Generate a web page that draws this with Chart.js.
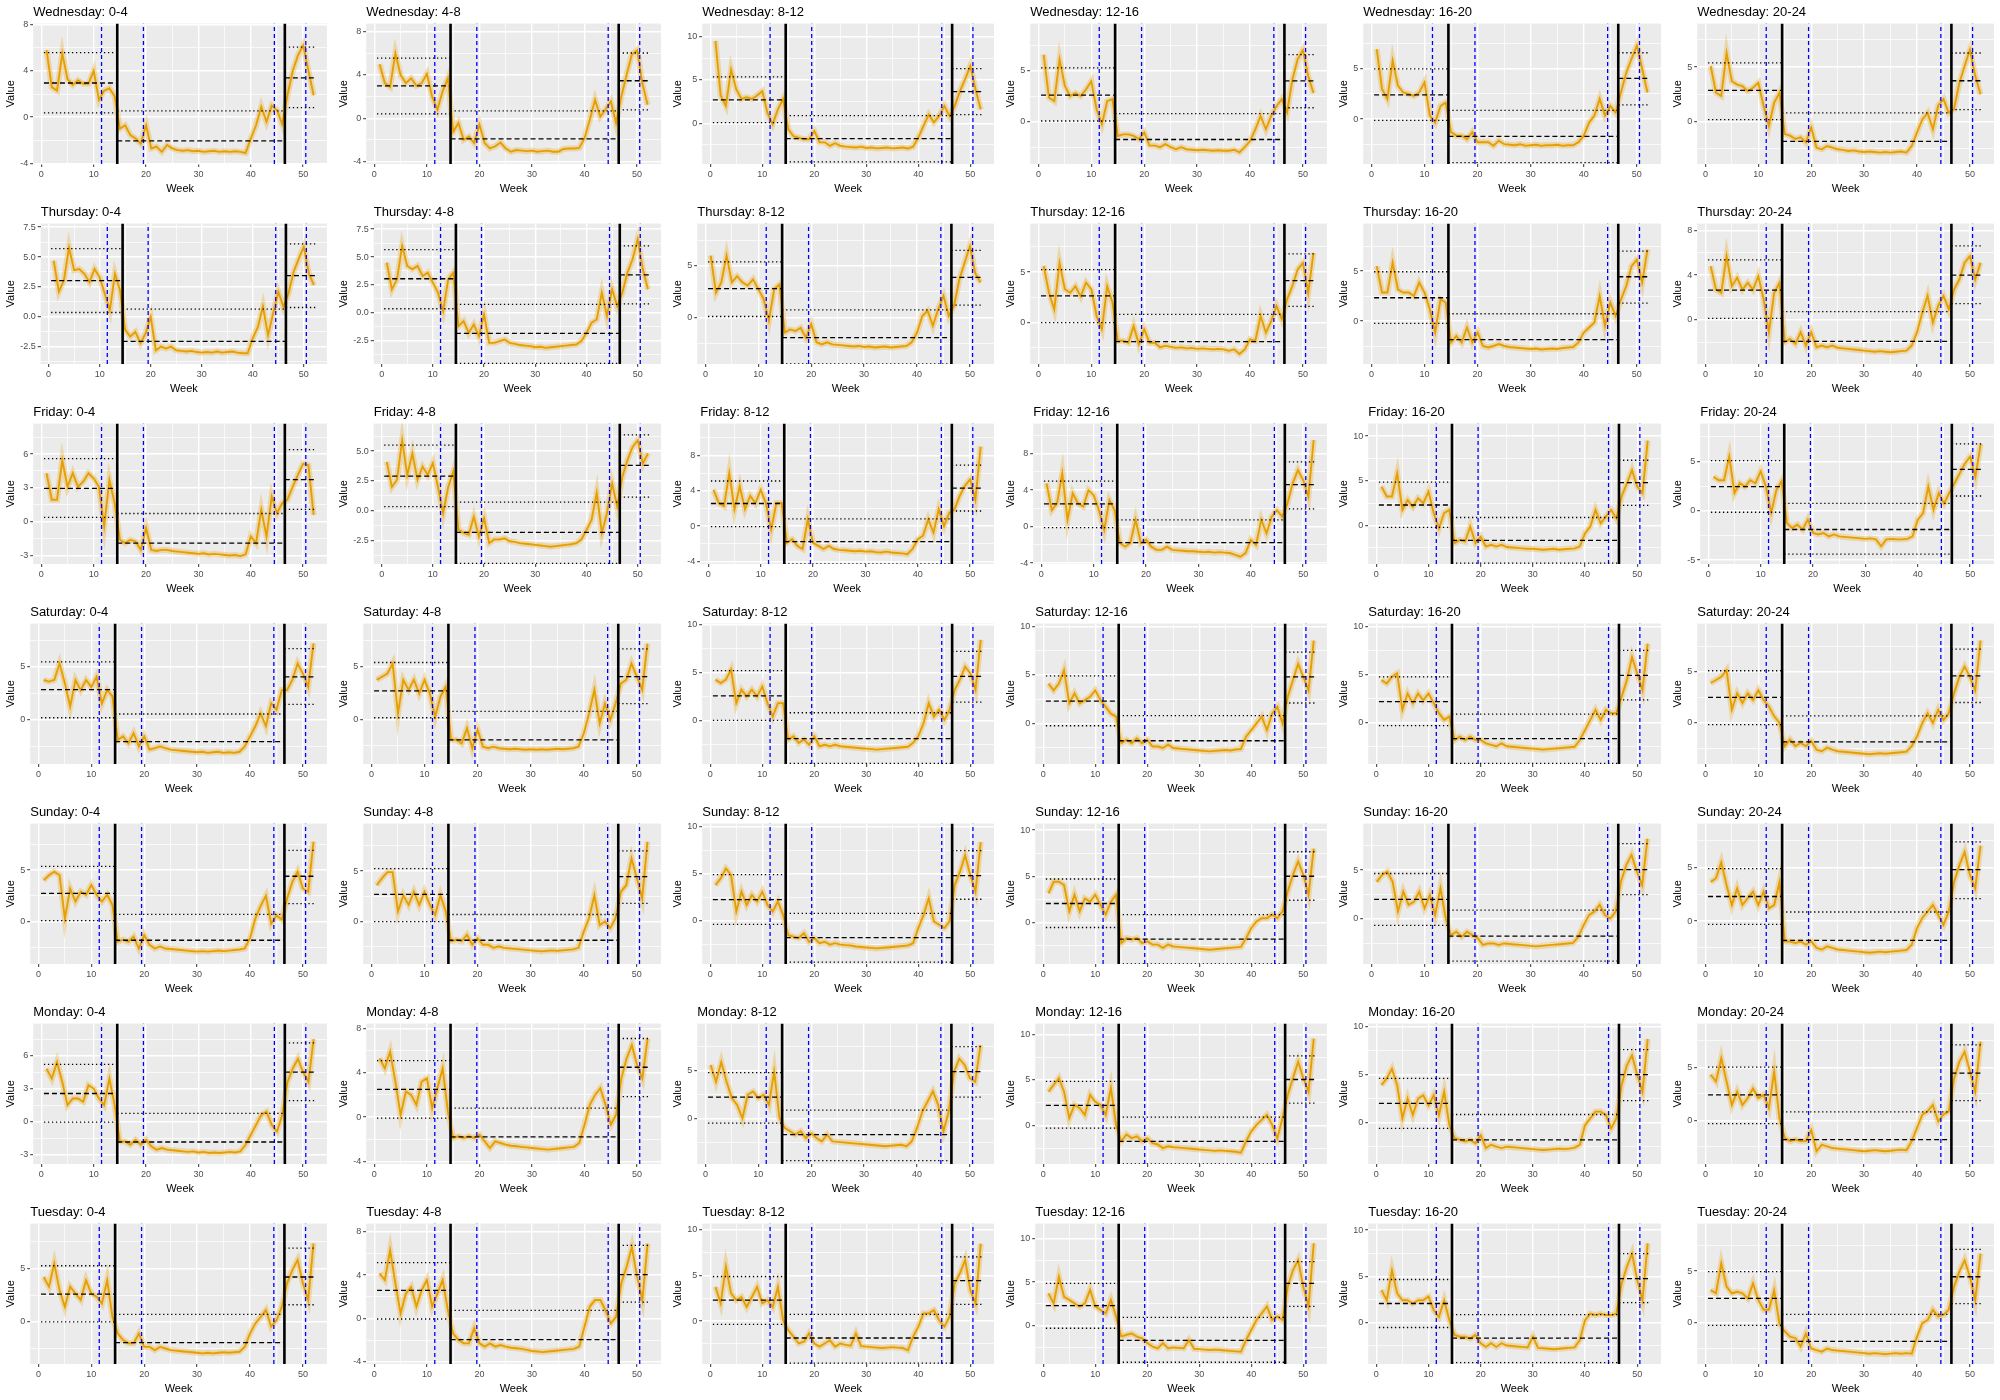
<!DOCTYPE html>
<html>
<head>
<meta charset="utf-8">
<script src="https://cdn.jsdelivr.net/npm/chart.js@4.4.1/dist/chart.umd.min.js"></script>
<style>
  html, body { margin: 0; padding: 0; background: #ffffff; }
  #grid { position: relative; width: 2000px; height: 1400px; }
  #grid canvas { position: absolute; }
</style>
</head>
<body>
<div id="grid"></div>
<script>
const days = ['Wednesday', 'Thursday', 'Friday', 'Saturday', 'Sunday', 'Monday', 'Tuesday'];
const hourBins = ['0-4', '4-8', '8-12', '12-16', '16-20', '20-24'];
const weeks = [1,2,3,4,5,6,7,8,9,10,11,12,13,14,15,16,17,18,19,20,21,22,23,24,25,26,
  27,28,29,30,31,32,33,34,35,36,37,38,39,40,41,42,43,44,45,46,47,48,49,50,51,52];

// changepoints (solid black) and the other detected breaks (dashed)
const boundaryWeeks = [14.5, 46.5];
const dashedWeeks = [11.5, 19.5, 44.5, 50.5];

// one row per hour bin, 52 weekly values
const wednesday = [
  [5.8,2.6,2.3,5.5,3.3,2.8,3.2,2.9,2.9,4.0,1.5,2.3,2.5,1.8,-1.0,-0.7,-1.55,-1.85,-2.3,-0.7,-2.7,-2.55,-3.0,-2.4,-2.7,-2.85,-2.9,-2.85,-2.95,-2.9,-3.0,-2.95,-2.9,-3.0,-2.95,-3.0,-2.95,-3.0,-3.1,-1.85,-0.7,0.9,-0.4,1.0,0.6,-0.6,1.9,4.0,5.35,6.2,4.05,1.9],
  [5.0,3.25,2.9,6.0,4.0,3.25,3.7,3.0,3.25,4.1,2.0,0.8,2.5,3.7,-1.25,-0.45,-2.0,-1.7,-2.3,-0.6,-2.3,-2.8,-2.6,-2.25,-2.8,-3.1,-2.95,-3.0,-3.05,-3.0,-3.1,-3.05,-3.0,-3.1,-3.1,-2.85,-2.8,-2.8,-2.75,-1.85,-0.15,1.7,0.15,0.8,1.55,-0.45,2.0,4.0,5.9,6.3,3.25,1.25],
  [9.5,3.2,2.0,6.2,3.9,2.8,3.0,2.8,3.2,3.7,1.2,-0.1,1.6,2.8,-0.7,-1.5,-1.65,-1.85,-1.85,-0.9,-2.2,-2.2,-2.6,-2.3,-2.6,-2.7,-2.75,-2.8,-2.7,-2.85,-2.8,-2.9,-2.85,-2.8,-2.9,-2.85,-2.8,-2.9,-2.7,-1.65,-0.3,1.0,0.1,0.85,2.0,0.85,2.0,3.7,5.1,6.6,3.9,1.6],
  [6.55,2.35,2.0,6.1,3.5,2.5,2.8,2.5,3.15,3.95,1.2,-0.25,2.0,2.2,-1.4,-1.25,-1.25,-1.4,-1.7,-1.05,-2.35,-2.35,-2.5,-2.2,-2.5,-2.7,-2.5,-2.7,-2.75,-2.8,-2.75,-2.8,-2.85,-2.8,-2.85,-2.85,-2.75,-3.0,-2.5,-1.9,-0.75,0.55,-0.75,0.55,1.5,2.2,0.9,4.1,6.1,7.0,4.45,2.8],
  [6.95,3.0,2.0,5.8,3.3,2.65,2.5,2.3,2.65,3.65,0.35,-0.35,1.3,1.65,-1.3,-1.65,-1.65,-2.0,-1.3,-2.3,-2.3,-2.3,-2.65,-2.15,-2.5,-2.55,-2.6,-2.5,-2.65,-2.6,-2.55,-2.65,-2.6,-2.6,-2.55,-2.65,-2.6,-2.6,-2.3,-1.65,-0.35,0.35,2.0,0.35,1.3,0.65,2.65,4.6,6.0,7.3,5.0,2.65],
  [5.1,2.65,2.35,6.3,3.7,3.4,3.25,2.8,3.1,3.55,1.45,-0.4,1.75,2.65,-1.15,-1.3,-1.6,-1.45,-1.9,-0.55,-2.4,-2.55,-2.25,-2.4,-2.55,-2.6,-2.7,-2.65,-2.75,-2.8,-2.75,-2.8,-2.85,-2.8,-2.85,-2.8,-2.75,-2.85,-2.25,-1.0,0.2,0.8,-0.7,1.45,2.05,0.8,1.15,3.55,5.1,6.6,4.2,2.5]
];
const thursday = [
  [4.7,2.1,3.05,5.8,3.9,4.0,3.6,2.9,4.0,3.3,1.95,0.55,3.6,2.2,-1.1,-1.65,-1.25,-2.2,-1.4,0.0,-2.8,-2.5,-2.65,-2.5,-2.8,-2.85,-2.9,-2.85,-2.95,-3.0,-2.95,-3.0,-2.9,-3.0,-2.95,-2.9,-3.0,-3.05,-3.05,-1.8,-0.85,0.85,-1.55,0.3,2.1,0.85,1.95,3.75,4.85,5.85,3.6,2.65],
  [4.5,2.1,3.0,6.0,4.2,3.9,4.2,3.3,3.6,2.7,1.8,0.15,3.0,3.6,-1.2,-0.75,-1.8,-1.05,-2.1,-0.15,-2.7,-2.7,-2.55,-2.4,-2.7,-2.8,-2.9,-2.95,-3.0,-3.1,-3.05,-3.15,-3.1,-3.05,-3.0,-2.95,-2.9,-2.85,-2.55,-1.8,-0.9,-0.6,1.8,-0.3,2.1,0.6,1.8,3.6,4.8,6.6,3.9,2.1],
  [6.0,2.4,3.4,6.0,3.4,4.0,3.4,3.1,3.7,2.75,1.8,-0.3,2.75,3.2,-1.45,-1.15,-1.3,-1.0,-1.95,-0.65,-2.4,-2.6,-2.4,-2.6,-2.65,-2.7,-2.75,-2.8,-2.75,-2.85,-2.8,-2.9,-2.85,-2.8,-2.9,-2.85,-2.8,-2.75,-2.4,-1.45,0.15,0.65,-0.8,0.8,2.1,0.15,1.15,3.7,5.3,6.9,4.3,3.4],
  [5.6,2.95,1.3,5.9,3.3,2.95,3.6,2.6,3.95,3.3,0.65,-0.65,3.6,2.0,-1.8,-1.8,-2.0,-0.35,-2.15,-0.65,-2.0,-2.0,-2.45,-2.3,-2.4,-2.5,-2.45,-2.55,-2.5,-2.6,-2.55,-2.6,-2.65,-2.6,-2.65,-2.8,-2.65,-3.1,-2.65,-1.65,-1.8,0.65,-1.0,0.15,1.65,0.35,2.3,3.6,5.25,5.9,2.95,6.9],
  [5.5,2.85,2.85,5.85,3.15,2.85,2.85,2.5,3.85,2.85,1.15,-1.15,2.15,1.85,-2.15,-1.5,-2.15,-0.65,-2.15,-1.15,-2.5,-2.65,-2.5,-2.3,-2.5,-2.6,-2.65,-2.7,-2.75,-2.8,-2.75,-2.85,-2.8,-2.75,-2.8,-2.7,-2.65,-2.6,-2.15,-1.15,-0.65,-0.15,2.5,-0.5,1.85,0.5,2.15,3.5,5.5,6.15,3.85,7.15],
  [4.8,2.7,2.4,5.7,3.0,3.75,2.7,3.3,2.7,3.9,1.85,-1.1,2.4,3.3,-2.0,-1.7,-2.15,-1.1,-2.3,-1.1,-2.45,-2.3,-2.45,-2.3,-2.5,-2.55,-2.6,-2.65,-2.7,-2.75,-2.8,-2.85,-2.8,-2.85,-2.9,-2.85,-2.8,-2.75,-2.3,-1.1,0.65,2.15,-0.25,1.25,2.15,0.95,2.7,3.6,5.1,5.7,3.6,5.1]
];
const friday = [
  [4.3,1.95,1.95,5.45,3.1,4.3,3.1,3.55,4.3,3.85,3.1,-0.4,3.7,1.65,-1.6,-1.9,-1.6,-1.75,-2.5,-0.55,-2.5,-2.6,-2.5,-2.5,-2.6,-2.65,-2.7,-2.75,-2.8,-2.85,-2.8,-2.9,-2.85,-2.9,-2.95,-3.0,-2.95,-3.05,-2.9,-1.3,-1.9,1.05,-1.3,2.25,0.75,1.65,1.95,3.1,4.15,5.15,5.0,0.6],
  [4.1,2.0,2.6,5.9,3.0,4.8,2.6,3.7,3.0,4.0,2.0,-0.2,2.0,3.3,-1.6,-1.85,-2.0,-0.5,-2.15,-0.6,-2.7,-2.4,-2.4,-2.3,-2.55,-2.6,-2.7,-2.75,-2.8,-2.85,-2.9,-2.95,-3.0,-2.95,-2.9,-2.85,-2.8,-2.7,-2.4,-1.6,-0.75,1.5,-1.85,-0.2,2.3,0.35,2.85,4.25,5.35,5.9,3.95,4.8],
  [4.1,2.6,2.25,6.0,1.9,4.5,1.9,3.4,2.6,4.1,2.6,-0.4,2.6,2.6,-1.9,-1.5,-2.25,-2.6,0.75,-1.9,-2.25,-2.6,-2.25,-2.6,-2.7,-2.75,-2.8,-2.85,-2.8,-2.9,-2.85,-2.95,-3.0,-2.9,-3.0,-3.05,-3.1,-3.2,-2.6,-1.5,-1.1,0.75,-0.75,1.9,0.0,1.5,1.9,3.4,4.55,5.3,3.0,9.0],
  [4.75,1.8,2.55,5.85,0.75,3.65,2.55,2.2,4.0,3.45,1.8,-0.35,2.9,1.8,-1.8,-2.2,-1.8,0.75,-1.8,-1.45,-2.2,-2.55,-2.55,-2.2,-2.55,-2.6,-2.65,-2.7,-2.7,-2.75,-2.8,-2.75,-2.85,-2.8,-2.85,-2.9,-3.1,-3.3,-2.9,-1.45,-2.0,0.75,-0.75,1.1,1.8,1.1,2.55,4.75,6.2,5.1,3.3,9.5],
  [4.35,3.25,3.25,5.85,1.75,2.85,2.1,3.05,2.5,3.8,1.4,-0.3,1.4,1.75,-1.95,-1.6,-1.8,-0.1,-1.95,-1.25,-2.35,-2.15,-2.35,-2.15,-2.4,-2.45,-2.5,-2.55,-2.6,-2.6,-2.65,-2.7,-2.65,-2.6,-2.7,-2.65,-2.6,-2.55,-2.35,-0.85,-0.1,1.75,0.25,1.0,1.75,0.8,3.25,4.7,6.2,4.35,3.6,9.5],
  [3.45,3.1,3.1,5.5,1.8,2.8,2.45,3.1,2.8,4.0,2.45,-0.2,2.1,3.0,-1.25,-1.75,-1.4,-1.9,-0.9,-2.25,-2.4,-2.25,-2.6,-2.4,-2.6,-2.65,-2.7,-2.75,-2.8,-2.85,-2.8,-2.9,-3.6,-2.9,-2.85,-2.9,-2.9,-2.85,-2.6,-0.9,-0.25,2.45,0.1,1.8,0.75,1.8,2.8,3.8,4.8,5.5,3.45,6.8]
];
const saturday = [
  [3.75,3.6,3.75,5.3,3.45,1.25,3.75,2.8,3.75,3.1,4.05,1.55,2.8,2.2,-1.9,-1.55,-2.2,-1.25,-2.5,-1.55,-2.8,-2.65,-2.5,-2.65,-2.8,-2.85,-2.9,-2.95,-3.0,-3.05,-3.0,-3.1,-3.05,-3.0,-3.1,-3.05,-3.1,-3.0,-2.5,-1.55,-0.6,0.6,-0.6,1.55,0.95,2.8,2.8,3.75,5.3,4.35,3.1,7.2],
  [3.75,4.05,4.35,5.3,0.55,3.75,2.8,3.75,2.45,3.75,2.45,0.25,2.15,3.1,-1.95,-1.95,-2.3,-0.85,-2.75,-1.0,-2.6,-2.75,-2.6,-2.75,-2.8,-2.85,-2.8,-2.85,-2.9,-2.85,-2.9,-2.85,-2.9,-2.85,-2.8,-2.85,-2.8,-2.75,-2.6,-1.35,0.55,2.8,-0.4,1.5,-0.05,1.5,3.4,3.75,5.3,4.05,2.8,7.2],
  [4.25,3.9,4.25,5.3,1.8,3.2,2.5,3.2,2.5,3.55,1.8,0.4,1.8,1.8,-2.0,-1.65,-2.35,-2.0,-2.55,-1.65,-2.7,-2.55,-2.7,-2.55,-2.7,-2.75,-2.8,-2.85,-2.9,-2.95,-3.0,-3.05,-3.0,-2.95,-2.9,-2.85,-2.8,-2.75,-2.35,-1.65,-0.3,1.8,0.4,1.1,0.05,1.1,3.2,4.25,5.6,4.9,3.2,8.4],
  [4.1,3.4,4.1,5.5,2.05,3.1,2.05,2.4,2.75,3.4,2.4,1.7,1.0,0.7,-2.05,-1.7,-2.05,-1.55,-2.05,-1.7,-2.4,-2.4,-2.55,-2.2,-2.55,-2.6,-2.65,-2.7,-2.75,-2.8,-2.85,-2.9,-2.85,-2.8,-2.75,-2.8,-2.7,-2.65,-1.35,-0.7,0.0,0.7,-0.7,1.0,1.7,0.0,2.75,4.45,6.15,4.8,3.4,8.55],
  [4.4,4.05,4.75,5.1,1.3,3.0,2.0,3.0,2.3,3.0,2.0,0.95,0.25,0.6,-1.85,-1.5,-1.85,-1.5,-1.85,-1.85,-2.2,-2.35,-2.5,-2.2,-2.5,-2.55,-2.6,-2.65,-2.7,-2.75,-2.8,-2.85,-2.8,-2.75,-2.7,-2.65,-2.6,-2.55,-1.85,-0.8,0.25,1.3,0.25,1.3,0.95,0.95,2.65,4.4,6.8,5.1,3.35,8.2],
  [3.9,4.2,4.5,5.15,1.3,2.9,1.95,2.9,2.25,3.2,2.25,1.6,0.65,0.0,-2.25,-1.6,-2.25,-1.95,-2.25,-1.75,-2.6,-2.75,-2.4,-2.6,-2.75,-2.8,-2.85,-2.9,-2.95,-3.0,-3.05,-3.0,-2.95,-3.0,-2.95,-2.9,-2.85,-2.8,-2.25,-1.3,0.0,0.95,0.0,1.3,0.3,0.95,2.9,4.5,5.5,4.5,3.2,8.05]
];
const sunday = [
  [4.0,4.5,4.85,4.5,0.3,3.2,1.95,2.9,2.6,3.55,2.6,1.95,2.6,1.6,-1.95,-1.75,-1.95,-1.45,-2.6,-1.3,-2.25,-2.6,-2.4,-2.6,-2.65,-2.7,-2.75,-2.8,-2.85,-2.9,-2.85,-2.9,-2.85,-2.8,-2.85,-2.8,-2.75,-2.7,-2.6,-1.6,0.3,1.5,2.5,-0.2,0.6,0.2,2.25,3.85,4.85,3.2,2.9,7.75],
  [3.6,4.3,4.9,4.9,1.0,2.6,1.65,2.95,1.65,2.95,1.65,0.65,2.6,1.0,-1.95,-1.8,-1.95,-1.3,-2.3,-1.65,-2.3,-2.3,-2.6,-2.45,-2.6,-2.65,-2.7,-2.75,-2.8,-2.85,-2.9,-2.95,-2.9,-2.85,-2.9,-2.85,-2.8,-2.75,-2.6,-1.0,0.35,2.6,-0.35,0.0,-0.65,0.35,2.95,3.6,6.25,4.3,2.3,7.9],
  [3.8,4.5,5.55,4.85,1.0,3.1,1.7,2.75,2.05,3.1,1.7,1.0,2.05,0.65,-1.5,-1.65,-1.8,-1.3,-2.2,-1.8,-2.35,-2.2,-2.5,-2.35,-2.5,-2.55,-2.6,-2.7,-2.75,-2.8,-2.85,-2.9,-2.85,-2.8,-2.75,-2.7,-2.65,-2.6,-2.35,-0.75,0.65,2.4,-0.05,-0.4,-0.75,-0.05,3.8,5.2,6.95,4.85,3.1,8.35],
  [3.15,4.4,4.4,4.05,1.2,3.0,1.2,2.6,2.25,3.0,1.9,0.85,2.25,3.0,-2.25,-1.7,-1.85,-1.7,-2.25,-2.05,-2.4,-2.4,-2.75,-2.4,-2.6,-2.65,-2.7,-2.75,-2.8,-2.85,-2.9,-2.95,-2.9,-2.85,-2.8,-2.75,-2.7,-2.65,-1.7,-0.6,0.1,0.45,0.45,0.85,0.45,1.2,3.35,5.15,6.6,5.15,3.0,8.0],
  [3.8,4.5,4.85,3.8,0.75,2.8,1.45,1.75,2.8,1.1,2.45,0.4,3.15,0.05,-1.65,-1.3,-1.8,-1.3,-1.65,-1.95,-2.65,-2.5,-2.5,-2.65,-2.5,-2.55,-2.6,-2.65,-2.7,-2.75,-2.8,-2.75,-2.7,-2.65,-2.6,-2.55,-2.5,-2.45,-1.8,-0.6,0.4,0.75,1.45,0.4,0.05,0.75,3.8,5.5,6.55,4.85,3.45,8.2],
  [3.65,4.0,5.5,3.35,1.5,3.05,1.5,2.15,2.75,1.5,2.75,1.2,1.5,3.65,-1.9,-1.9,-2.05,-1.9,-2.2,-1.9,-2.5,-2.65,-2.35,-2.5,-2.65,-2.7,-2.75,-2.8,-2.85,-2.9,-2.95,-2.9,-2.85,-2.9,-2.85,-2.8,-2.75,-2.7,-2.2,-0.65,0.3,0.9,1.5,0.6,-0.35,0.9,3.65,5.2,6.45,4.3,3.05,7.05]
];
const monday = [
  [4.8,3.9,5.4,3.6,1.5,2.1,2.1,1.8,3.3,3.0,2.1,1.5,3.9,1.5,-1.8,-1.8,-2.1,-1.65,-2.1,-1.65,-2.25,-2.55,-2.4,-2.55,-2.6,-2.65,-2.7,-2.75,-2.7,-2.8,-2.75,-2.85,-2.8,-2.85,-2.8,-2.75,-2.8,-2.7,-2.1,-1.2,-0.3,0.6,0.9,-0.3,-0.9,0.6,3.6,4.8,5.7,4.5,3.6,7.5],
  [5.3,4.4,5.9,3.2,0.2,2.3,2.0,1.1,3.2,3.5,0.8,2.6,4.4,0.5,-1.9,-1.75,-1.9,-1.75,-1.9,-1.6,-2.2,-2.8,-2.2,-2.35,-2.5,-2.6,-2.65,-2.7,-2.75,-2.8,-2.85,-2.9,-2.95,-2.9,-2.85,-2.8,-2.75,-2.7,-2.35,-0.7,1.1,2.0,2.6,1.1,-0.7,0.2,3.5,5.3,6.5,4.7,3.5,7.1],
  [5.6,3.85,5.9,3.85,2.15,1.45,0.05,2.5,2.85,2.15,2.5,1.45,4.9,0.05,-0.95,-1.3,-1.65,-1.3,-2.0,-1.5,-2.0,-2.35,-1.65,-2.35,-2.4,-2.45,-2.5,-2.55,-2.6,-2.65,-2.7,-2.75,-2.8,-2.85,-2.8,-2.75,-2.7,-2.85,-2.35,-0.95,0.75,1.8,2.85,1.45,-1.3,0.75,4.9,6.25,5.6,4.2,3.85,7.65],
  [3.7,4.45,5.2,3.7,0.8,2.25,1.9,1.15,3.35,2.6,2.25,1.15,4.1,0.05,-1.75,-1.0,-1.4,-1.2,-1.75,-1.4,-1.95,-2.1,-2.5,-2.3,-2.4,-2.45,-2.5,-2.55,-2.6,-2.65,-2.7,-2.75,-2.8,-2.75,-2.8,-2.85,-2.9,-3.0,-1.75,-0.65,0.05,0.6,1.15,0.05,-1.4,0.8,3.35,5.2,7.0,5.2,3.7,9.55],
  [3.9,4.6,5.6,3.9,0.45,2.5,0.8,2.5,2.85,1.8,2.85,0.8,3.2,-0.25,-1.6,-1.8,-1.95,-1.8,-2.15,-1.3,-2.65,-2.3,-2.5,-2.65,-2.5,-2.55,-2.6,-2.65,-2.7,-2.75,-2.8,-2.85,-2.8,-2.75,-2.7,-2.75,-2.7,-2.6,-2.3,-0.25,0.45,1.15,1.15,0.8,-0.6,0.45,3.9,5.95,7.0,4.95,3.2,8.7],
  [4.3,3.65,5.85,3.65,1.45,2.7,1.45,2.1,3.0,2.1,2.4,1.15,4.6,0.2,-1.65,-1.95,-1.8,-1.95,-1.95,-0.9,-2.9,-2.3,-2.45,-2.6,-2.65,-2.7,-2.75,-2.8,-2.85,-2.9,-2.85,-2.8,-2.85,-2.9,-2.85,-2.8,-2.75,-2.8,-1.95,-0.7,0.55,0.85,1.45,-0.1,0.55,0.85,3.95,5.5,6.45,4.6,2.7,7.4]
];
const tuesday = [
  [4.2,3.3,5.45,2.95,1.4,3.3,2.65,2.05,3.9,2.65,2.35,1.7,3.9,0.45,-1.1,-1.7,-2.0,-2.0,-1.1,-2.35,-2.35,-2.65,-2.35,-2.5,-2.65,-2.7,-2.75,-2.8,-2.85,-2.9,-2.95,-2.9,-2.95,-2.9,-2.85,-2.9,-2.85,-2.8,-2.35,-1.1,-0.15,0.45,1.1,-0.45,0.15,1.4,3.6,4.85,5.8,3.6,2.05,7.35],
  [4.15,3.55,6.3,3.25,0.45,2.3,2.9,1.1,2.6,3.55,1.1,2.3,3.55,0.75,-1.4,-2.0,-2.3,-2.3,-0.9,-2.3,-2.6,-2.3,-2.6,-2.45,-2.6,-2.7,-2.75,-2.8,-2.9,-3.0,-3.05,-3.1,-3.05,-3.0,-2.95,-2.9,-2.85,-2.8,-2.6,-0.75,1.1,1.7,1.7,0.75,-0.45,0.15,3.25,4.75,6.6,3.85,1.7,6.9],
  [3.75,1.95,6.0,3.05,2.3,2.65,1.55,2.65,3.75,1.95,2.3,1.55,3.75,0.1,-1.0,-1.7,-2.45,-2.25,-1.35,-2.45,-2.8,-2.45,-2.1,-2.8,-2.45,-2.6,-2.7,-1.35,-2.75,-2.8,-2.85,-2.9,-2.95,-2.9,-2.85,-2.9,-2.95,-3.2,-1.7,-0.6,0.85,0.85,1.2,0.1,-0.6,0.5,4.15,5.25,6.7,3.4,1.95,8.5],
  [3.7,2.55,5.6,3.3,2.95,2.55,2.2,2.55,4.1,2.2,1.8,1.4,2.95,1.05,-1.25,-1.05,-0.9,-1.25,-1.45,-2.0,-2.4,-2.6,-2.0,-2.6,-2.5,-2.55,-2.6,-1.65,-2.65,-2.7,-2.75,-2.8,-2.75,-2.8,-2.85,-2.9,-2.95,-3.0,-1.65,-0.5,0.65,1.4,2.2,0.65,1.05,0.65,4.45,6.35,7.5,4.45,2.2,9.45],
  [3.5,2.4,5.65,3.15,2.4,2.4,2.05,2.4,2.4,2.8,1.35,0.6,2.4,0.25,-1.35,-1.55,-1.55,-1.75,-1.35,-2.25,-2.65,-2.25,-2.65,-2.25,-2.5,-2.55,-2.6,-2.65,-2.7,-1.55,-2.75,-2.8,-2.85,-2.9,-2.85,-2.8,-2.75,-2.7,-1.9,0.25,0.95,0.8,0.95,0.8,0.8,0.95,4.2,6.0,7.45,4.6,2.4,8.55],
  [3.15,2.85,5.75,3.5,2.85,3.0,2.85,2.35,3.8,2.2,1.25,1.25,3.15,-0.1,-0.85,-1.35,-1.5,-2.3,-1.05,-2.5,-2.65,-2.8,-2.5,-2.65,-2.7,-2.75,-2.8,-2.85,-2.9,-2.95,-3.0,-2.95,-3.0,-3.05,-3.0,-2.95,-3.0,-2.95,-3.0,-1.35,-0.05,0.25,1.25,0.6,0.75,1.25,3.5,4.95,6.05,4.45,2.2,6.7]
];
const series = [wednesday, thursday, friday, saturday, sunday, monday, tuesday];

// per panel, day by day, hour bin by hour bin
const yLimits = [
  [-4.05,8.1],[-4.24,8.76],[-4.7,11.5],[-4.15,9.6],[-4.47,9.5],[-3.9,9.0],
  [-3.95,7.8],[-4.6,8.0],[-4.5,9.1],[-4.1,9.8],[-4.3,9.75],[-3.95,8.6],
  [-3.75,8.7],[-4.45,7.3],[-4.3,11.6],[-4.1,11.3],[-4.3,11.4],[-5.4,8.85],
  [-4.15,9.05],[-4.25,9.1],[-4.55,10.1],[-4.2,10.3],[-4.35,10.3],[-4.0,9.7],
  [-4.1,9.5],[-4.2,9.7],[-4.55,10.3],[-4.5,10.7],[-4.6,9.75],[-4.0,9.1],
  [-3.85,8.9],[-4.25,8.45],[-4.7,9.9],[-4.25,11.2],[-4.3,10.3],[-4.1,9.1],
  [-3.95,9.2],[-4.2,8.75],[-4.7,10.7],[-4.4,11.7],[-4.5,10.7],[-4.0,9.6]
];
const yStep = [
  4,4,5,5,5,5,
  2.5,2.5,5,5,5,4,
  3,2.5,4,4,5,5,
  5,5,5,5,5,5,
  5,5,5,5,5,5,
  3,4,5,5,5,5,
  5,4,5,5,5,5
];

// segment levels: mean (dashed) and bounds (dotted) for the three periods
const segMean = [
  [2.96,-2.05,3.4],[3.0,-1.92,3.47],[2.7,-1.77,3.65],[2.6,-1.75,4.0],[2.4,-1.72,4.04],[2.87,-1.83,3.75],
  [3.03,-2.05,3.44],[3.05,-1.85,3.4],[2.8,-1.95,3.9],[2.65,-1.88,4.15],[2.33,-1.87,4.43],[2.66,-1.92,4.0],
  [2.95,-1.9,3.73],[2.9,-1.8,3.8],[2.55,-1.76,4.3],[2.5,-1.75,4.6],[2.3,-1.65,4.8],[2.45,-1.9,4.2],
  [2.85,-2.05,4.05],[2.7,-1.95,4.05],[2.55,-1.9,4.6],[2.3,-1.8,4.8],[2.15,-1.7,4.9],[2.5,-1.85,4.6],
  [2.75,-1.8,4.4],[2.7,-1.85,4.45],[2.25,-1.75,4.8],[2.05,-1.8,5.0],[2.0,-1.75,5.05],[2.3,-1.8,4.8],
  [2.55,-1.85,4.5],[2.5,-1.8,4.5],[2.25,-1.65,4.9],[2.2,-1.75,5.05],[2.0,-1.8,5.0],[2.4,-1.8,4.45],
  [2.6,-1.95,4.2],[2.6,-1.95,4.05],[2.3,-1.85,4.45],[2.3,-1.7,4.85],[2.05,-1.7,4.75],[2.35,-1.8,4.45]
];
const segUpper = [
  [5.58,0.55,6.07],[5.57,0.68,6.04],[5.35,0.88,6.3],[5.26,0.78,6.56],[5.0,0.86,6.6],[5.4,0.8,6.3],
  [5.7,0.64,6.1],[5.67,0.75,6.0],[5.4,0.75,6.5],[5.25,0.82,6.8],[4.93,0.73,7.0],[5.35,0.74,6.6],
  [5.6,0.73,6.4],[5.5,0.72,6.35],[5.1,0.8,6.9],[5.0,0.75,7.1],[4.85,0.9,7.3],[5.1,0.75,6.8],
  [5.45,0.55,6.7],[5.4,0.75,6.7],[5.2,0.8,7.2],[4.9,0.8,7.35],[4.75,0.85,7.5],[5.1,0.7,7.2],
  [5.35,0.7,6.9],[5.25,0.7,7.0],[4.9,0.8,7.45],[4.7,0.85,7.65],[4.65,0.9,7.7],[4.9,0.85,7.4],
  [5.2,0.75,7.15],[5.1,0.8,7.1],[4.8,0.9,7.5],[4.85,0.9,7.65],[4.6,0.85,7.6],[5.0,0.8,7.1],
  [5.25,0.7,6.9],[5.15,0.75,6.75],[4.9,0.75,7.05],[4.85,0.95,7.35],[4.65,0.85,7.45],[4.95,0.8,7.1]
];
const segLower = [
  [0.37,null,0.83],[0.4,null,0.77],[0.08,-4.46,1.0],[0.06,null,1.36],[-0.13,-4.34,1.42],[0.18,null,1.1],
  [0.36,null,0.78],[0.36,-4.54,0.8],[0.1,-4.5,1.2],[0.0,null,1.6],[-0.23,null,1.8],[0.12,null,1.45],
  [0.38,null,1.1],[0.35,-4.4,1.15],[-0.07,-4.3,1.7],[-0.1,null,1.95],[-0.2,-4.2,2.25],[-0.15,-4.4,1.5],
  [0.2,null,1.45],[0.15,null,1.5],[0.0,-4.5,1.9],[-0.25,null,2.1],[-0.35,-4.3,2.35],[-0.15,null,2.0],
  [0.1,null,1.75],[0.0,null,1.8],[-0.35,-4.35,2.3],[-0.55,-4.5,2.4],[-0.65,-4.3,2.5],[-0.3,null,2.1],
  [-0.05,null,1.9],[-0.1,null,1.85],[-0.45,-4.35,2.25],[-0.3,-4.25,2.45],[-0.6,null,2.3],[-0.3,null,1.85],
  [0.0,null,1.6],[-0.05,null,1.5],[-0.35,-4.6,1.85],[-0.3,-4.2,2.2],[-0.55,-4.35,2.15],[-0.25,null,1.85]
];
const segSpans = [[0.5, 14.5], [14.5, 46.5], [46.5, 52.5]];

const FONT = '"Liberation Sans", Arial, sans-serif';
const ORANGE = '#E69F00';

const panelBackground = {
  id: 'panelBackground',
  beforeDraw(chart) {
    const {ctx, chartArea} = chart;
    ctx.save();
    ctx.fillStyle = '#EBEBEB';
    ctx.fillRect(chartArea.left, chartArea.top, chartArea.right - chartArea.left, chartArea.bottom - chartArea.top);
    ctx.restore();
  }
};

function isMajor(v, step) {
  const r = v / step;
  return Math.abs(r - Math.round(r)) < 1e-6;
}

function tickValues(lo, hi, step) {
  const half = step / 2;
  const out = [];
  for (let k = Math.ceil(lo / half - 1e-9); k <= Math.floor(hi / half + 1e-9); k++) {
    out.push(+(k * half).toFixed(4));
  }
  return out;
}

function refLine(points, color, width, dash) {
  return {
    data: points,
    borderColor: color,
    borderWidth: width,
    borderDash: dash,
    pointRadius: 0,
    fill: false,
    order: 0
  };
}

function buildDatasets(p, values) {
  const [lo, hi] = yLimits[p];
  const pts = weeks.map((w, i) => ({x: w, y: values[i]}));
  const sets = [];
  // the faint band stands in for the ensemble of thin runs under the main line
  sets.push({data: pts, borderColor: 'rgba(232,165,20,0.30)', borderWidth: 6, pointRadius: 0, order: 3});
  sets.push({data: pts, borderColor: ORANGE, borderWidth: 1.9, pointRadius: 0, order: 2});

  segSpans.forEach((span, s) => {
    sets.push(refLine([{x: span[0], y: segMean[p][s]}, {x: span[1], y: segMean[p][s]}], '#000', 1.3, [5, 3]));
    sets.push(refLine([{x: span[0], y: segUpper[p][s]}, {x: span[1], y: segUpper[p][s]}], '#000', 1.3, [1.3, 2.7]));
    if (segLower[p][s] !== null) {
      sets.push(refLine([{x: span[0], y: segLower[p][s]}, {x: span[1], y: segLower[p][s]}], '#000', 1.3, [1.3, 2.7]));
    }
  });
  dashedWeeks.forEach(w => {
    sets.push(refLine([{x: w, y: lo}, {x: w, y: hi}], '#0000FF', 1.3, [4, 3]));
  });
  boundaryWeeks.forEach(w => {
    sets.push(refLine([{x: w, y: lo}, {x: w, y: hi}], '#000', 2.6, []));
  });
  return sets;
}

function drawPanel(d, h) {
  const p = d * 6 + h;
  const [lo, hi] = yLimits[p];
  const step = yStep[p];
  const yTicks = tickValues(lo, hi, step);
  const xTicks = [0, 5, 10, 15, 20, 25, 30, 35, 40, 45, 50];

  const left = Math.round(h * 2000 / 6);
  const width = Math.round((h + 1) * 2000 / 6) - left;
  const canvas = document.createElement('canvas');
  canvas.width = width;
  canvas.height = 200;
  canvas.style.left = left + 'px';
  canvas.style.top = (d * 200) + 'px';
  document.getElementById('grid').appendChild(canvas);

  new Chart(canvas.getContext('2d'), {
    type: 'line',
    data: {datasets: buildDatasets(p, series[d][h])},
    options: {
      responsive: false,
      animation: false,
      devicePixelRatio: 1,
      layout: {padding: {left: 4, right: 6, top: 0, bottom: 4}},
      plugins: {
        legend: {display: false},
        tooltip: {enabled: false},
        title: {
          display: true,
          text: days[d] + ': ' + hourBins[h],
          align: 'start',
          fullSize: false,
          color: '#000',
          font: {family: FONT, size: 13, weight: 'normal'},
          padding: {top: 5, bottom: 3}
        }
      },
      scales: {
        x: {
          type: 'linear',
          min: -1.55,
          max: 54.55,
          afterBuildTicks: axis => { axis.ticks = xTicks.map(v => ({value: v})); },
          ticks: {
            autoSkip: false,
            maxRotation: 0,
            padding: 2,
            color: '#4D4D4D',
            font: {family: FONT, size: 9},
            callback: v => (v % 10 === 0 ? String(v) : '')
          },
          grid: {
            color: '#FFFFFF',
            lineWidth: c => (c.tick && c.tick.value % 10 === 0 ? 1.4 : 0.7),
            tickColor: c => (c.tick && c.tick.value % 10 === 0 ? '#333333' : 'rgba(0,0,0,0)'),
            tickLength: 3,
            tickWidth: 1
          },
          border: {display: false},
          title: {display: true, text: 'Week', color: '#000', font: {family: FONT, size: 11}, padding: {top: 1, bottom: 0}}
        },
        y: {
          min: lo,
          max: hi,
          afterBuildTicks: axis => { axis.ticks = yTicks.map(v => ({value: v})); },
          ticks: {
            autoSkip: false,
            padding: 2,
            color: '#4D4D4D',
            font: {family: FONT, size: 9},
            callback: v => {
              if (!isMajor(v, step)) return '';
              return step === 2.5 ? v.toFixed(1) : String(Math.round(v));
            }
          },
          grid: {
            color: '#FFFFFF',
            lineWidth: c => (c.tick && isMajor(c.tick.value, step) ? 1.4 : 0.7),
            tickColor: c => (c.tick && isMajor(c.tick.value, step) ? '#333333' : 'rgba(0,0,0,0)'),
            tickLength: 3,
            tickWidth: 1
          },
          border: {display: false},
          title: {display: true, text: 'Value', color: '#000', font: {family: FONT, size: 11}, padding: {top: 0, bottom: 1}}
        }
      }
    },
    plugins: [panelBackground]
  });
}

days.forEach((day, d) => {
  hourBins.forEach((bin, h) => drawPanel(d, h));
});
</script>
</body>
</html>
